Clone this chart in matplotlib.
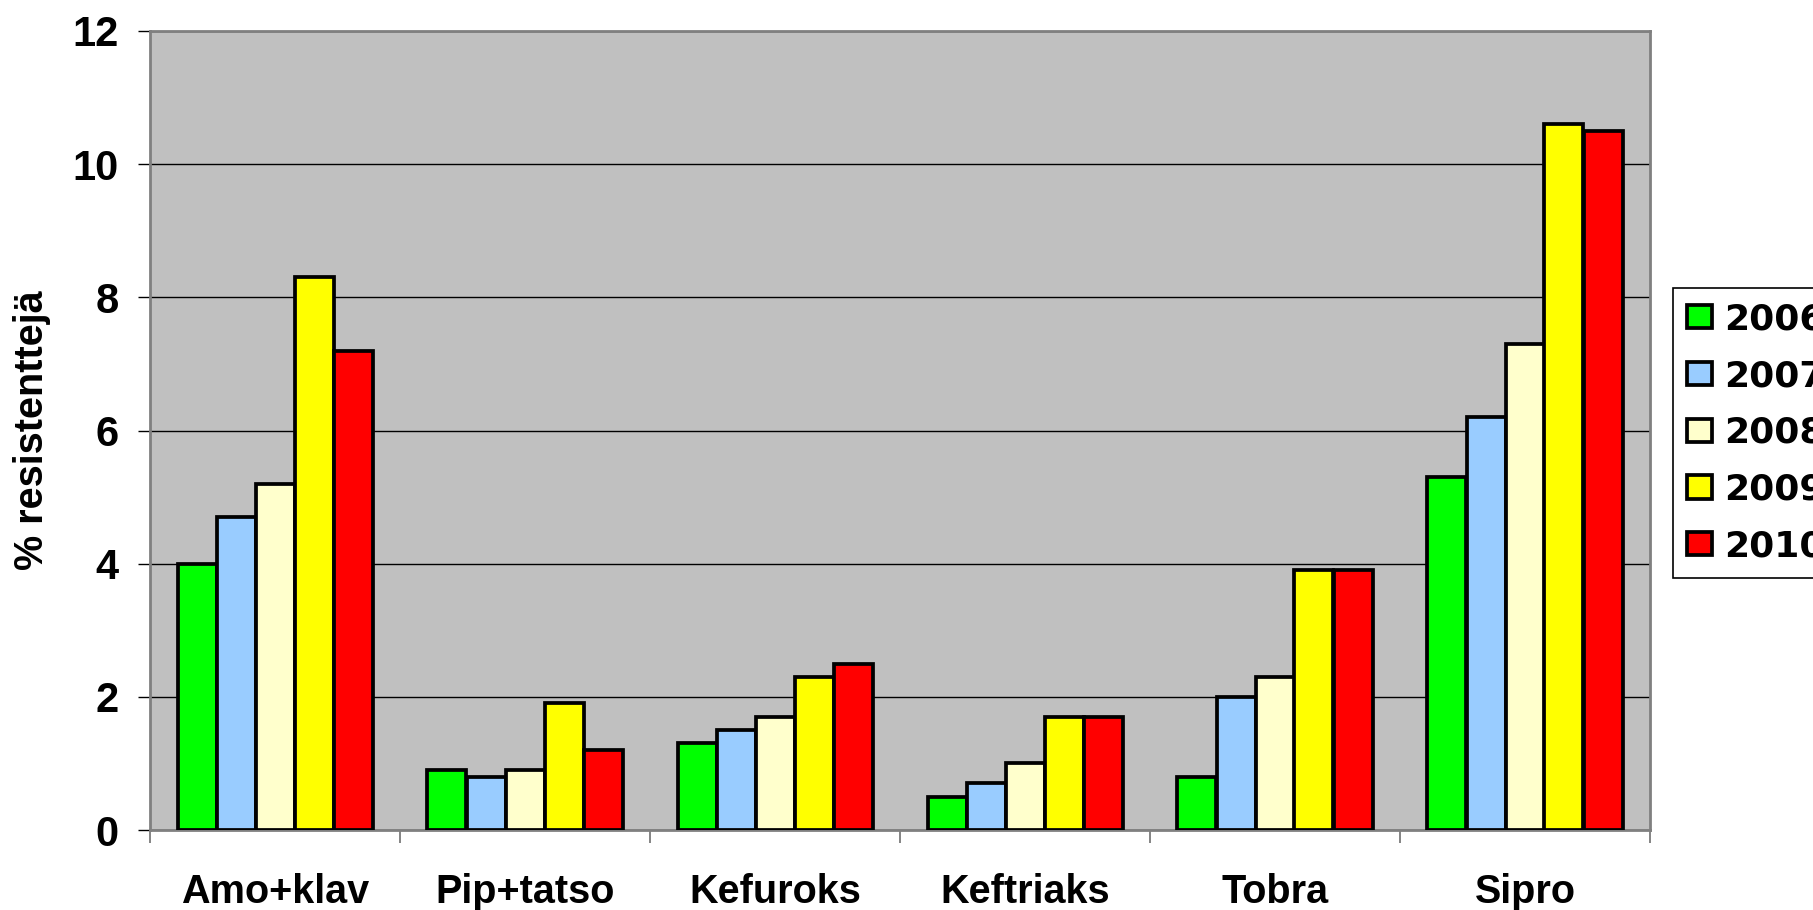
import numpy as np
import matplotlib
matplotlib.use('Agg')
import matplotlib.pyplot as plt
from matplotlib.ticker import FixedLocator

categories = ['Amo+klav', 'Pip+tatso', 'Kefuroks', 'Keftriaks', 'Tobra', 'Sipro']
years = ['2006', '2007', '2008', '2009', '2010']
values = {
    '2006': [4.0, 0.9, 1.3, 0.5, 0.8, 5.3],
    '2007': [4.7, 0.8, 1.5, 0.7, 2.0, 6.2],
    '2008': [5.2, 0.9, 1.7, 1.0, 2.3, 7.3],
    '2009': [8.3, 1.9, 2.3, 1.7, 3.9, 10.6],
    '2010': [7.2, 1.2, 2.5, 1.7, 3.9, 10.5],
}
colors = ['#00ff00', '#99ccff', '#ffffcc', '#ffff00', '#ff0000']
yticks = [0, 2, 4, 6, 8, 10, 12]

plt.rcParams['font.family'] = ['Liberation Sans', 'DejaVu Sans']
plt.rcParams['font.weight'] = 'bold'

fig = plt.figure(figsize=(18.13, 9.10), dpi=100)
ax = fig.add_axes([150 / 1813, 1 - 830 / 910, 1500 / 1813, 799 / 910])
ax.set_facecolor('#c0c0c0')

x = np.arange(len(categories)) + 0.5
w = 0.156
for i, yr in enumerate(years):
    ax.bar(x + (i - 2) * w, values[yr], width=w, color=colors[i],
           edgecolor='black', linewidth=2.7, label=yr, zorder=3)

ax.set_xlim(0, len(categories))
ax.set_ylim(0, 12)
ax.set_yticks(yticks)
ax.set_axisbelow(True)
ax.yaxis.grid(True, color='black', linewidth=1.0)

# category boundaries as major ticks, names on minor ticks
ax.xaxis.set_major_locator(FixedLocator(np.arange(len(categories) + 1)))
ax.xaxis.set_minor_locator(FixedLocator(x))
ax.set_xticklabels([], minor=False)
ax.set_xticklabels(categories, minor=True, fontsize=28.5, fontweight='bold')
ax.tick_params(axis='x', which='major', length=9.4, width=1.2, color='#707070', direction='out')
ax.tick_params(axis='x', which='minor', length=0, pad=31)
ax.tick_params(axis='y', length=8.6, width=1.0, color='black', pad=14, labelsize=30)
for lbl in ax.get_yticklabels():
    lbl.set_fontweight('bold')

for s in ax.spines.values():
    s.set_color('#808080')
    s.set_linewidth(2.0)

ax.set_ylabel('% resistenttejä', fontsize=28.5, fontweight='bold', va='center')
ax.yaxis.set_label_coords(-0.0785, 0.5)

# legend runs off the right edge, as in the original
leg = fig.legend(loc='upper left', bbox_to_anchor=(1673 / 1813, 1 - 288 / 910),
                 prop={'family': 'DejaVu Sans', 'size': 26, 'weight': 'bold'},
                 frameon=True, fancybox=False, framealpha=1, edgecolor='black',
                 handlelength=0.67, handleheight=0.62, handletextpad=0.35,
                 borderpad=0.4, labelspacing=0.63, borderaxespad=0)
leg.get_frame().set_linewidth(1.2)

fig.savefig('out.png', dpi=100)
